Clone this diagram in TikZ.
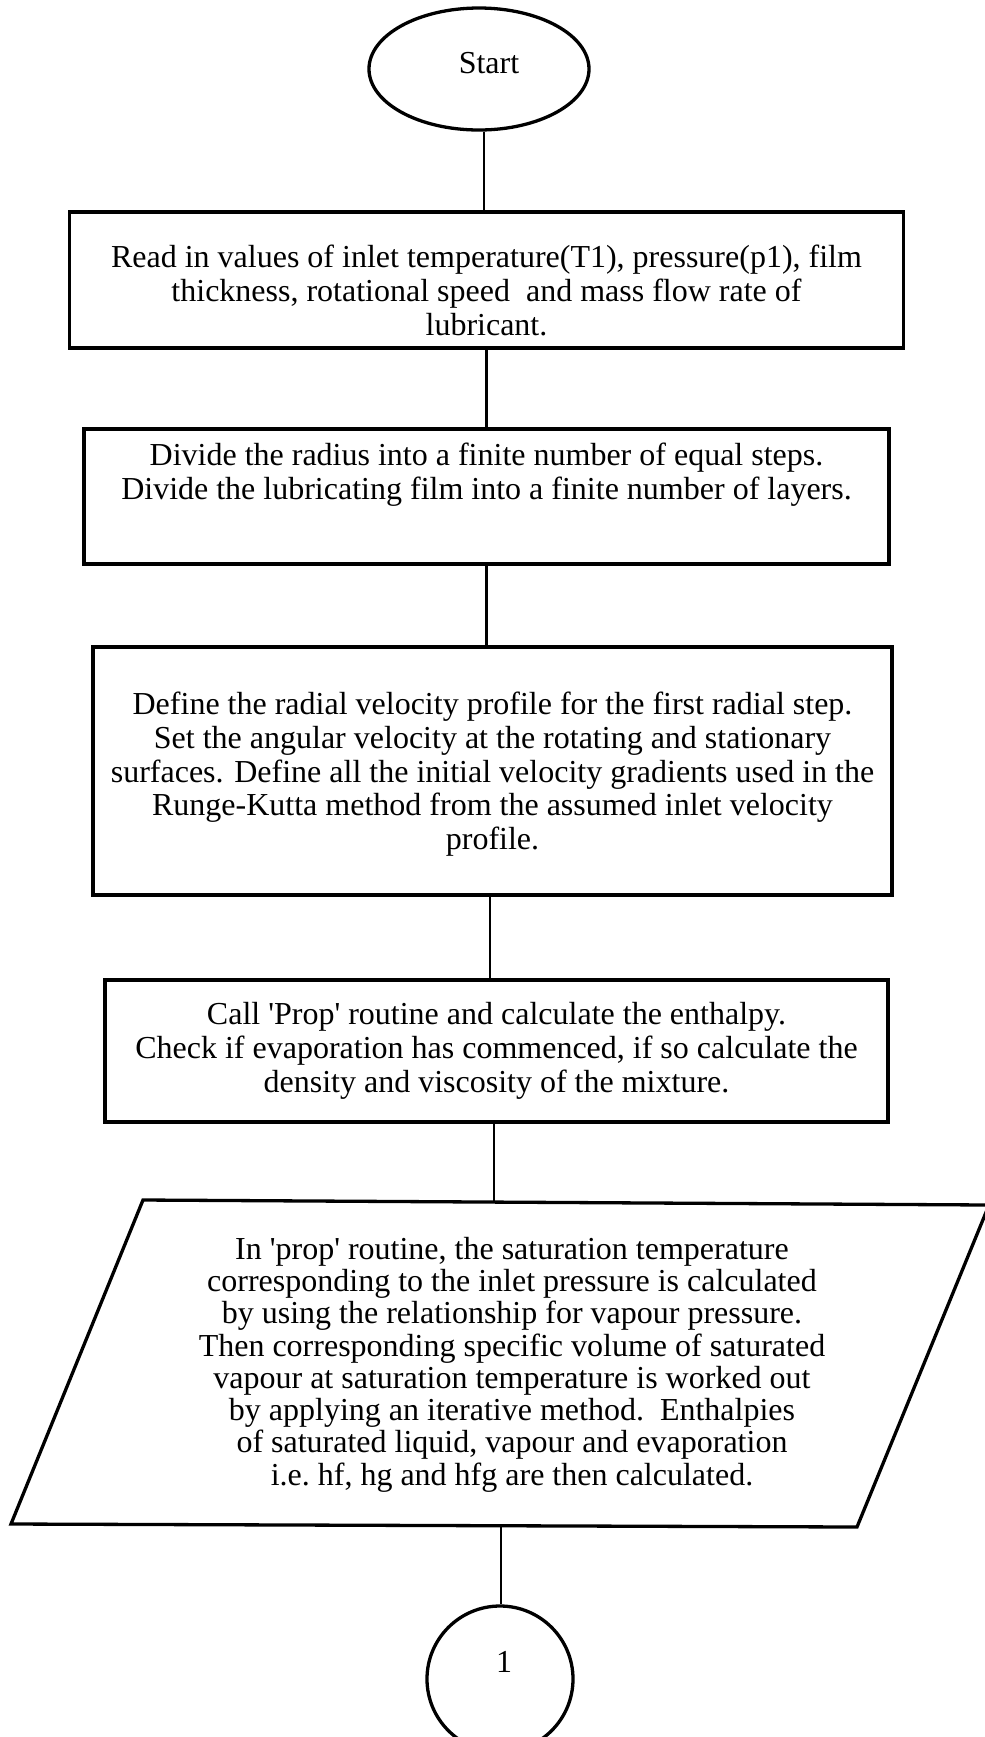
\documentclass[tikz,border=0pt]{standalone}
\usepackage{fontspec}
\setmainfont{Liberation Serif}
\usetikzlibrary{shapes.geometric}
\begin{document}
\begin{tikzpicture}[x=0.5pt,y=-0.5pt,
  shp/.style={draw=black, line width=1.65pt},
  conn/.style={draw=black, line width=1.4pt},
  txt/.style={font=\fontsize{16pt}{16.9pt}\selectfont},
  boxnode/.style={shp, txt, rectangle, inner sep=0pt, align=center},
]
\useasboundingbox (0,0) rectangle (985,1737);
\fill[white] (0,0) rectangle (985,1737);

% Start terminal
\node[shp, txt, ellipse, minimum width=110pt, minimum height=61pt, inner sep=0pt] (start) at (479,69)
  {\hspace*{10pt}Start\rule[-6.5pt]{0pt}{6.5pt}};

% Process boxes
\node[boxnode, minimum width=417pt, minimum height=68pt] (read) at (486.5,280)
  {\rule{0pt}{21.5pt}Read in values of inlet temperature(T1), pressure(p1), film\\
   thickness, rotational speed\ \ and mass flow rate of\\
   lubricant.};

\node[boxnode, minimum width=402.5pt, minimum height=67.5pt] (divide) at (486.5,496.5)
  {Divide the radius into a finite number of equal steps.\\
   Divide the lubricating film into a finite number of layers.\rule[-25.5pt]{0pt}{25.5pt}};

\node[boxnode, minimum width=399.5pt, minimum height=124pt] (define) at (492.5,771)
  {\rule{0pt}{14.4pt}Define the radial velocity profile for the first radial step.\\
   Set the angular velocity at the rotating and stationary\\
   surfaces. Define all the initial velocity gradients used in the\\
   Runge-Kutta method from the assumed inlet velocity\\
   profile.};

\node[boxnode, minimum width=391.5pt, minimum height=71pt] (call) at (496.5,1051)
  {Call \textquotesingle Prop\textquotesingle\ routine and calculate the enthalpy.\\
   Check if evaporation has commenced, if so calculate the\\
   density and viscosity of the mixture.};

% Parallelogram (input/output)
\coordinate (ptl) at (143,1200);
\coordinate (ptr) at (989,1205);
\coordinate (pbr) at (857,1527);
\coordinate (pbl) at (11,1524);
\draw[shp, line join=miter] (ptl) -- (ptr) -- (pbr) -- (pbl) -- cycle;
\node[align=center, inner sep=0pt, font=\fontsize{16pt}{16.15pt}\selectfont] (prop) at (512,1364.5)
  {In \textquotesingle prop\textquotesingle\ routine, the saturation temperature\\
   corresponding to the inlet pressure is calculated\\
   by using the relationship for vapour pressure.\\
   Then corresponding specific volume of saturated\\
   vapour at saturation temperature is worked out\\
   by applying an iterative method.\ \ Enthalpies\\
   of saturated liquid, vapour and evaporation\\
   i.e.\ hf, hg and hfg are then calculated.};

% Connector circle
\node[shp, txt, circle, minimum size=73pt, inner sep=0pt] (one) at (500,1679)
  {\hspace*{4pt}1\rule[-17pt]{0pt}{17pt}};

% Connectors
\coordinate (c1) at ([xshift=2.5pt]start.south);
\draw[conn] (c1) -- (c1 |- read.north);
\draw[conn] (read.south) -- (read.south |- divide.north);
\draw[conn] (divide.south) -- (divide.south |- define.north);
\coordinate (c4) at ([xshift=-1.25pt]define.south);
\draw[conn] (c4) -- (c4 |- call.north);
\coordinate (ptop) at (494,1202);
\draw[conn] (call.south -| ptop) -- (ptop);
\coordinate (pbot) at (501,1525.5);
\draw[conn] (pbot) -- (pbot |- one.north);
\end{tikzpicture}
\end{document}
